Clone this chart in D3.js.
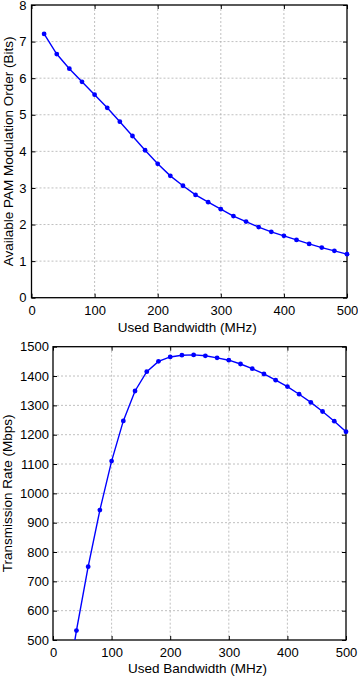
<!DOCTYPE html>
<html><head><meta charset="utf-8">
<script src="https://cdn.jsdelivr.net/npm/d3@7"></script>
<style>
html,body{margin:0;padding:0;background:#fff;}
svg{display:block;font-family:"Liberation Sans",Arial,sans-serif;}
</style></head>
<body>
<svg id="c" width="358" height="676"></svg>
<script>
const bandwidth = [20,40,60,80,100,120,140,160,180,200,220,240,260,280,300,320,340,360,380,400,420,440,460,480,500];
const pamBits = [7.21,6.66,6.26,5.90,5.55,5.19,4.81,4.42,4.03,3.66,3.33,3.06,2.81,2.61,2.42,2.23,2.08,1.93,1.80,1.69,1.58,1.47,1.37,1.28,1.19];
const rateMbps = [288,532,750,943,1110,1247,1349,1415,1450,1465,1471,1472,1469,1462,1454,1441,1425,1407,1386,1364,1338,1310,1279,1246,1210];
const xTicks = [0,100,200,300,400,500];
const topYTicks = [0,1,2,3,4,5,6,7,8];
const botYTicks = [500,600,700,800,900,1000,1100,1200,1300,1400,1500];

const svg = d3.select("#c");

function panel(cfg){
  const g = svg.append("g");
  const x = d3.scaleLinear().domain([0,500]).range([cfg.left,cfg.right]);
  const y = d3.scaleLinear().domain(cfg.yDomain).range([cfg.bottom,cfg.top]);
  const clipId = "clip"+cfg.id;
  svg.append("clipPath").attr("id",clipId).append("rect")
    .attr("x",cfg.left).attr("y",cfg.top).attr("width",cfg.right-cfg.left).attr("height",cfg.bottom-cfg.top);
  // grid
  g.append("g").selectAll("line").data(xTicks.slice(1,-1)).join("line")
    .attr("x1",d=>x(d)).attr("x2",d=>x(d)).attr("y1",cfg.top).attr("y2",cfg.bottom)
    .attr("stroke","#b0b0b0").attr("stroke-width",0.8).attr("stroke-dasharray","2,2");
  g.append("g").selectAll("line").data(cfg.yTicks.slice(1,-1)).join("line")
    .attr("y1",d=>y(d)).attr("y2",d=>y(d)).attr("x1",cfg.left).attr("x2",cfg.right)
    .attr("stroke","#b0b0b0").attr("stroke-width",0.8).attr("stroke-dasharray","2,2");
  // axes
  const tl = 4;
  const fmt = d3.format("d");
  const ax = g.append("g").attr("transform",`translate(0,${cfg.bottom})`)
    .call(d3.axisBottom(x).tickValues(xTicks).tickSizeInner(-tl).tickSizeOuter(0).tickPadding(8).tickFormat(fmt));
  const axT = g.append("g").attr("transform",`translate(0,${cfg.top})`)
    .call(d3.axisTop(x).tickValues(xTicks).tickSizeInner(-tl).tickSizeOuter(0).tickFormat(""));
  const ay = g.append("g").attr("transform",`translate(${cfg.left},0)`)
    .call(d3.axisLeft(y).tickValues(cfg.yTicks).tickSizeInner(-tl).tickSizeOuter(0).tickPadding(cfg.yPad).tickFormat(fmt));
  const ayR = g.append("g").attr("transform",`translate(${cfg.right},0)`)
    .call(d3.axisRight(y).tickValues(cfg.yTicks).tickSizeInner(-tl).tickSizeOuter(0).tickFormat(""));
  [ax,axT,ay,ayR].forEach(a=>{
    a.select(".domain").remove();
    a.selectAll("line").attr("stroke","#000");
    a.selectAll("text").attr("font-size",13).attr("fill","#000").attr("font-family","Liberation Sans, Arial, sans-serif");
  });
  g.append("rect").attr("x",cfg.left).attr("y",cfg.top).attr("width",cfg.right-cfg.left).attr("height",cfg.bottom-cfg.top)
    .attr("fill","none").attr("stroke","#000").attr("stroke-width",1.3);
  // data
  const data = bandwidth.map((b,i)=>({b, v: cfg.values[i]}));
  const line = d3.line().x(d=>x(d.b)).y(d=>y(d.v));
  const dg = g.append("g").attr("clip-path",`url(#${clipId})`);
  dg.append("path").datum(data).attr("d",line).attr("fill","none").attr("stroke","#0000ff").attr("stroke-width",1.4);
  g.append("g").selectAll("circle").data(data.filter(d=>d.v>=cfg.yDomain[0])).join("circle")
    .attr("cx",d=>x(d.b)).attr("cy",d=>y(d.v)).attr("r",2.4).attr("fill","#0000ff");
  // labels
  g.append("text").attr("x",(cfg.left+cfg.right)/2 - 2).attr("y",cfg.xLabelY).attr("text-anchor","middle")
    .attr("font-size",13.5).text("Used Bandwidth (MHz)");
  g.append("text").attr("transform",`translate(${cfg.yLabelX},${(cfg.top+cfg.bottom)/2}) rotate(-90)`)
    .attr("text-anchor","middle").attr("font-size",13.5).text(cfg.yLabel);
}

panel({id:1,left:31.5,right:347,top:5,bottom:297.7,yDomain:[0,8],yTicks:topYTicks,values:pamBits,
  yLabel:"Available PAM Modulation Order (Bits)",xLabelY:331.5,yLabelX:13,yPad:5});
panel({id:2,left:53,right:346,top:346.7,bottom:640,yDomain:[500,1500],yTicks:botYTicks,values:rateMbps,
  yLabel:"Transmission Rate (Mbps)",xLabelY:673,yLabelX:12,yPad:4});
</script>
</body></html>
